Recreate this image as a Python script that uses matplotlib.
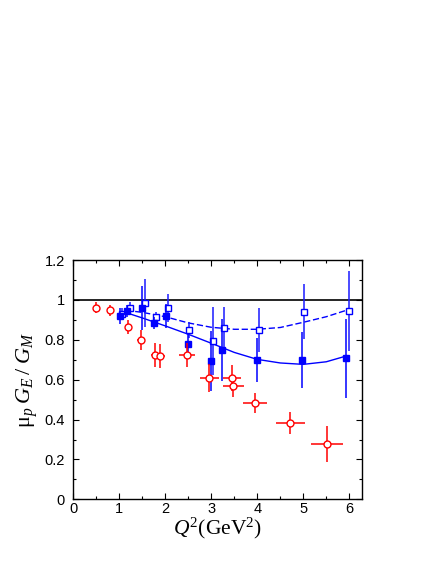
import matplotlib
matplotlib.use("Agg")
import matplotlib.pyplot as plt
import numpy as np
from matplotlib.ticker import MultipleLocator

plt.rcParams['mathtext.fontset'] = 'custom'
plt.rcParams['mathtext.rm'] = 'Liberation Serif'
plt.rcParams['mathtext.it'] = 'Liberation Serif:italic'

# red open circles
red_x = [0.49, 0.80, 1.20, 1.47, 1.78, 1.885, 2.47, 2.96, 3.45, 3.48, 3.95, 4.72, 5.51]
red_y = [0.962, 0.948, 0.866, 0.797, 0.725, 0.719, 0.725, 0.610, 0.607, 0.569, 0.482, 0.385, 0.276]
red_yerr = [0.028, 0.028, 0.035, 0.05, 0.06, 0.06, 0.06, 0.07, 0.065, 0.055, 0.05, 0.055, 0.09]
red_xerr = [0.0, 0.0, 0.0, 0.09, 0.1, 0.1, 0.18, 0.21, 0.2, 0.23, 0.26, 0.31, 0.35]

# blue filled squares
fill_x = [1.015, 1.17, 1.50, 1.755, 2.01, 2.49, 2.99, 3.24, 3.99, 4.98, 5.93]
fill_y = [0.920, 0.946, 0.958, 0.885, 0.921, 0.781, 0.694, 0.749, 0.699, 0.700, 0.707]
fill_err = [0.04, 0.03, 0.11, 0.03, 0.06, 0.05, 0.15, 0.155, 0.11, 0.14, 0.2]

# blue open squares
open_x = [1.07, 1.23, 1.56, 1.79, 2.05, 2.52, 3.04, 3.28, 4.03, 5.02, 5.99]
open_y = [0.928, 0.960, 0.983, 0.916, 0.961, 0.851, 0.796, 0.857, 0.850, 0.942, 0.946]
open_err = [0.03, 0.03, 0.12, 0.025, 0.07, 0.04, 0.17, 0.11, 0.11, 0.14, 0.2]

# curves
solid_x = [1.1, 1.5, 2.0, 2.5, 3.0, 3.5, 4.0, 4.5, 5.0, 5.5, 5.95]
solid_y = [0.940, 0.910, 0.870, 0.828, 0.783, 0.737, 0.702, 0.684, 0.677, 0.690, 0.720]
dash_x = [1.15, 1.5, 2.0, 2.5, 3.0, 3.5, 4.0, 4.5, 5.0, 5.5, 6.0]
dash_y = [0.948, 0.938, 0.916, 0.885, 0.863, 0.853, 0.853, 0.862, 0.888, 0.916, 0.953]

fig = plt.figure(figsize=(4.36, 5.64), dpi=100)
ax = fig.add_axes([0.168, 0.1147, 0.6616, 0.4241])

ax.axhline(1.0, color='black', lw=1.2, zorder=1)
ax.plot(solid_x, solid_y, color='blue', lw=1.0, zorder=2)
ax.plot(dash_x, dash_y, color='blue', lw=1.0, dashes=(4.5, 2), zorder=2)

ax.errorbar(open_x, open_y, yerr=open_err, fmt='s', color='#1a1aff', mfc='white', mec='blue',
            ms=4.5, mew=1.0, elinewidth=1.1, capsize=0, zorder=3)
ax.errorbar(fill_x, fill_y, yerr=fill_err, fmt='s', color='blue', mfc='blue', mec='blue',
            ms=4.5, mew=1.0, elinewidth=1.1, capsize=0, zorder=4)
ax.errorbar(red_x, red_y, yerr=red_yerr, xerr=red_xerr, fmt='o', color='red', mfc='white', mec='red',
            ms=5, mew=1.0, elinewidth=1.1, capsize=0, zorder=5)

ax.set_xlim(0, 6.27)
ax.set_ylim(0, 1.2)
ax.xaxis.set_major_locator(MultipleLocator(1))
ax.xaxis.set_minor_locator(MultipleLocator(0.5))
ax.yaxis.set_minor_locator(MultipleLocator(0.1))
ax.set_yticks([0, 0.2, 0.4, 0.6, 0.8, 1.0, 1.2])
ax.set_yticklabels(['0', '0.2', '0.4', '0.6', '0.8', '1', '1.2'])
ax.tick_params(which='both', direction='in', top=True, right=True, width=0.8)
ax.tick_params(which='major', length=4)
ax.tick_params(which='minor', length=2)
ax.tick_params(axis='x', pad=2)
ax.tick_params(axis='y', pad=6)
for lab in ax.get_xticklabels() + ax.get_yticklabels():
    lab.set_fontfamily('Liberation Sans')
    lab.set_fontsize(10.5)
for sp in ax.spines.values():
    sp.set_linewidth(1.0)

ax.set_xlabel('$Q^2$(GeV$^2$)', family='Liberation Serif', fontsize=15.5, labelpad=0)
ax.set_ylabel('μ$_p\\;G_E\\,/\\;G_M$', family='Liberation Serif', fontsize=16, labelpad=3)

fig.savefig('out.png', dpi=100)
